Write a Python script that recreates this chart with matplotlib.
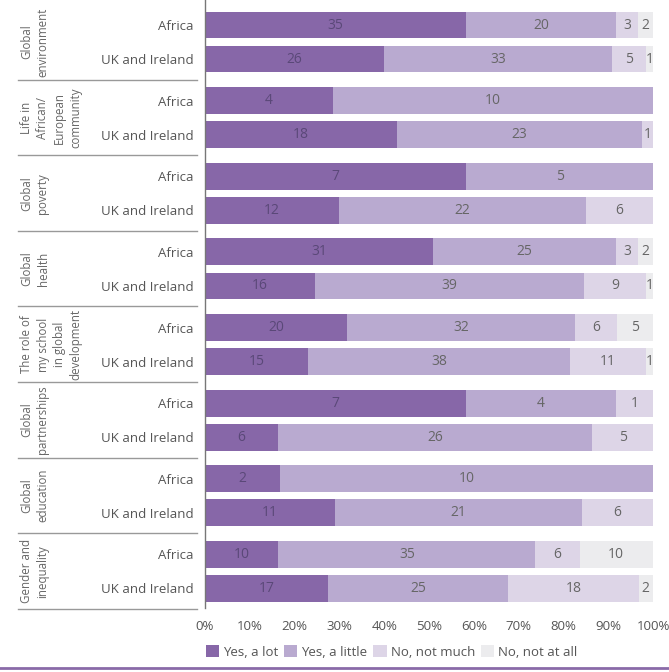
import matplotlib
matplotlib.use("Agg")
import matplotlib.pyplot as plt
from matplotlib.patches import Patch
from matplotlib.lines import Line2D

plt.rcParams['font.family'] = ['Open Sans', 'DejaVu Sans']

# topics (group labels) and the two regions shown for each
topics = ["Global\nenvironment", "Life in\nAfrican/\nEuropean\ncommunity", "Global\npoverty",
          "Global\nhealth", "The role of\nmy school\nin global\ndevelopment", "Global\npartnerships",
          "Global\neducation", "Gender and\ninequality"]
regions = ["Africa", "UK and Ireland"]
answers = ["Yes, a lot", "Yes, a little", "No, not much", "No, not at all"]

# counts per topic: [Africa, UK and Ireland]
yes_lot = [[35, 26], [4, 18], [7, 12], [31, 16], [20, 15], [7, 6], [2, 11], [10, 17]]
yes_little = [[20, 33], [10, 23], [5, 22], [25, 39], [32, 38], [4, 26], [10, 21], [35, 25]]
no_much = [[3, 5], [0, 1], [0, 6], [3, 9], [6, 11], [1, 5], [0, 6], [6, 18]]
no_all = [[2, 1], [0, 0], [0, 0], [2, 1], [5, 1], [0, 0], [0, 0], [10, 2]]

colors = ["#8767a8", "#b9aad0", "#ddd5e7", "#ececee"]
text_colors = ["#5a4878", "#666666", "#666666", "#666666"]

fig = plt.figure(figsize=(6.69, 6.72), dpi=100)
ax = fig.add_axes([205 / 669, 1 - 608 / 672, 448 / 669, 608 / 672])

series = [yes_lot, yes_little, no_much, no_all]
for g in range(len(topics)):
    for r in range(2):
        y = g - 0.225 if r == 0 else g + 0.225
        vals = [s[g][r] for s in series]
        total = float(sum(vals))
        left = 0.0
        for k, v in enumerate(vals):
            w = v / total * 100
            if v > 0:
                ax.barh(y, w, left=left, height=0.355, color=colors[k], linewidth=0)
                ax.text(left + w / 2, y, str(v), ha='center', va='center',
                        fontsize=10, color=text_colors[k])
            left += w

ax.set_xlim(0, 100)
ax.set_ylim(7.484, -0.556)
ax.set_xticks(range(0, 101, 10))
ax.set_xticklabels(["%d%%" % t for t in range(0, 101, 10)], fontsize=9.5, color="#555555")
ax.tick_params(axis='x', length=0, pad=9)
ax.tick_params(axis='y', length=0)
ys = []
labels = []
for g in range(len(topics)):
    ys += [g - 0.225, g + 0.225]
    labels += regions
ax.set_yticks(ys)
ax.set_yticklabels(labels, fontsize=9.5, color="#555555")
ax.tick_params(axis='y', pad=8)
for s in ["top", "right", "bottom"]:
    ax.spines[s].set_visible(False)
ax.spines["left"].set_color("#777777")
ax.spines["left"].set_linewidth(1)

# group labels and separator lines in figure coordinates
for g, t in enumerate(topics):
    yc = 1 - (42 + g * 75.6) / 672
    fig.text(20 / 669, yc, t, rotation=90, ha='left', va='center', multialignment='center',
             fontsize=8.3, color="#666666", linespacing=1.35)
    ysep = 1 - (79.5 + g * 75.6) / 672
    fig.add_artist(Line2D([18 / 669, 197 / 669], [ysep, ysep], color="#999999", linewidth=1))

handles = [Patch(facecolor=c, edgecolor='none') for c in colors]
fig.legend(handles, answers, loc='center left', bbox_to_anchor=(194 / 669, 1 - 652 / 672),
           ncol=4, frameon=False, fontsize=9.5, handlelength=1.0, handleheight=1.0,
           handletextpad=0.3, columnspacing=0.45, labelcolor="#555555")

fig.add_artist(Line2D([0, 1], [1 - 668 / 672, 1 - 668 / 672], color="#8a6aa8", linewidth=2))

fig.savefig("out.png", dpi=100)
